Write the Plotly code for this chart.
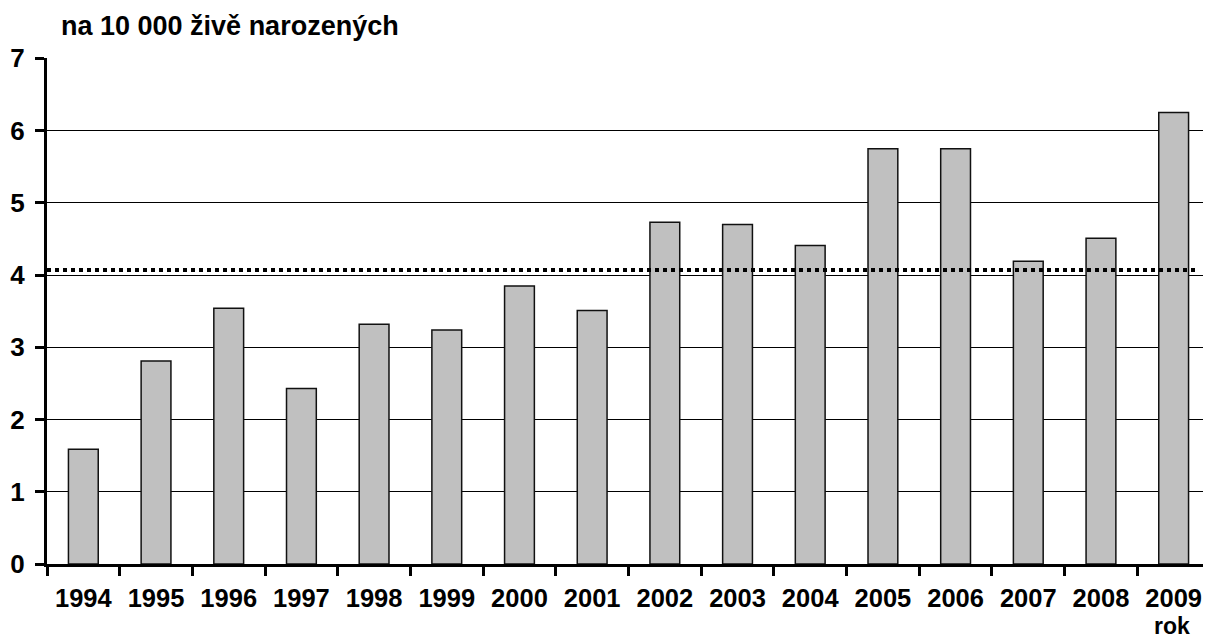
import plotly.graph_objects as go

years = ["1994", "1995", "1996", "1997", "1998", "1999", "2000", "2001",
         "2002", "2003", "2004", "2005", "2006", "2007", "2008", "2009"]
values = [1.59, 2.81, 3.54, 2.43, 3.32, 3.24, 3.85, 3.51,
          4.73, 4.70, 4.41, 5.75, 5.75, 4.19, 4.51, 6.25]
average = 4.07
y_ticks = [0, 1, 2, 3, 4, 5, 6, 7]

FONT = "Liberation Sans, Arial, sans-serif"

fig = go.Figure()
fig.add_trace(go.Bar(
    x=years, y=values,
    marker=dict(color="#c0c0c0", line=dict(color="#111111", width=1.5)),
    width=0.41,
))

fig.add_shape(type="line", xref="paper", yref="y", x0=0, x1=0.99,
              y0=average, y1=average,
              line=dict(color="black", width=4, dash="dot"))

# page body has an 8px margin; plot area in screen px: x 47..1210, y 58..564
fig.update_layout(
    width=1211, height=641,
    margin=dict(l=39, r=9, t=50, b=85, autoexpand=False),
    plot_bgcolor="white", paper_bgcolor="white",
    showlegend=False,
    bargap=0.59,
    font=dict(family=FONT, color="black"),
    xaxis=dict(
        type="category", automargin=False,
        showline=True, linecolor="black", linewidth=3,
        ticks="outside", tickson="boundaries", ticklen=9, tickwidth=3, tickcolor="black",
        tickfont=dict(size=25.5, family=FONT, weight="bold"),
        showgrid=False,
        ticklabelstandoff=9,
    ),
    yaxis=dict(
        range=[0, 7.005], automargin=False,
        tickvals=y_ticks,
        showline=True, linecolor="black", linewidth=3,
        ticks="outside", ticklen=9, tickwidth=3, tickcolor="black",
        tickfont=dict(size=26, family=FONT, weight="bold"),
        showgrid=True, gridcolor="black", gridwidth=1.3,
        zeroline=False,
        ticklabelstandoff=5,
    ),
    annotations=[
        dict(text="na 10 000 živě narozených", xref="paper", yref="paper",
             x=(59 - 47) / 1163, y=1 + (58 - 26) / 506, xanchor="left", yanchor="middle",
             showarrow=False, font=dict(size=27, family=FONT, weight="bold")),
        dict(text="rok", xref="paper", yref="paper",
             x=(1172 - 47) / 1163, y=-(626 - 564) / 506, xanchor="center", yanchor="middle",
             showarrow=False, font=dict(size=23, family=FONT, weight="bold")),
    ],
)

fig.write_html("out.html")
